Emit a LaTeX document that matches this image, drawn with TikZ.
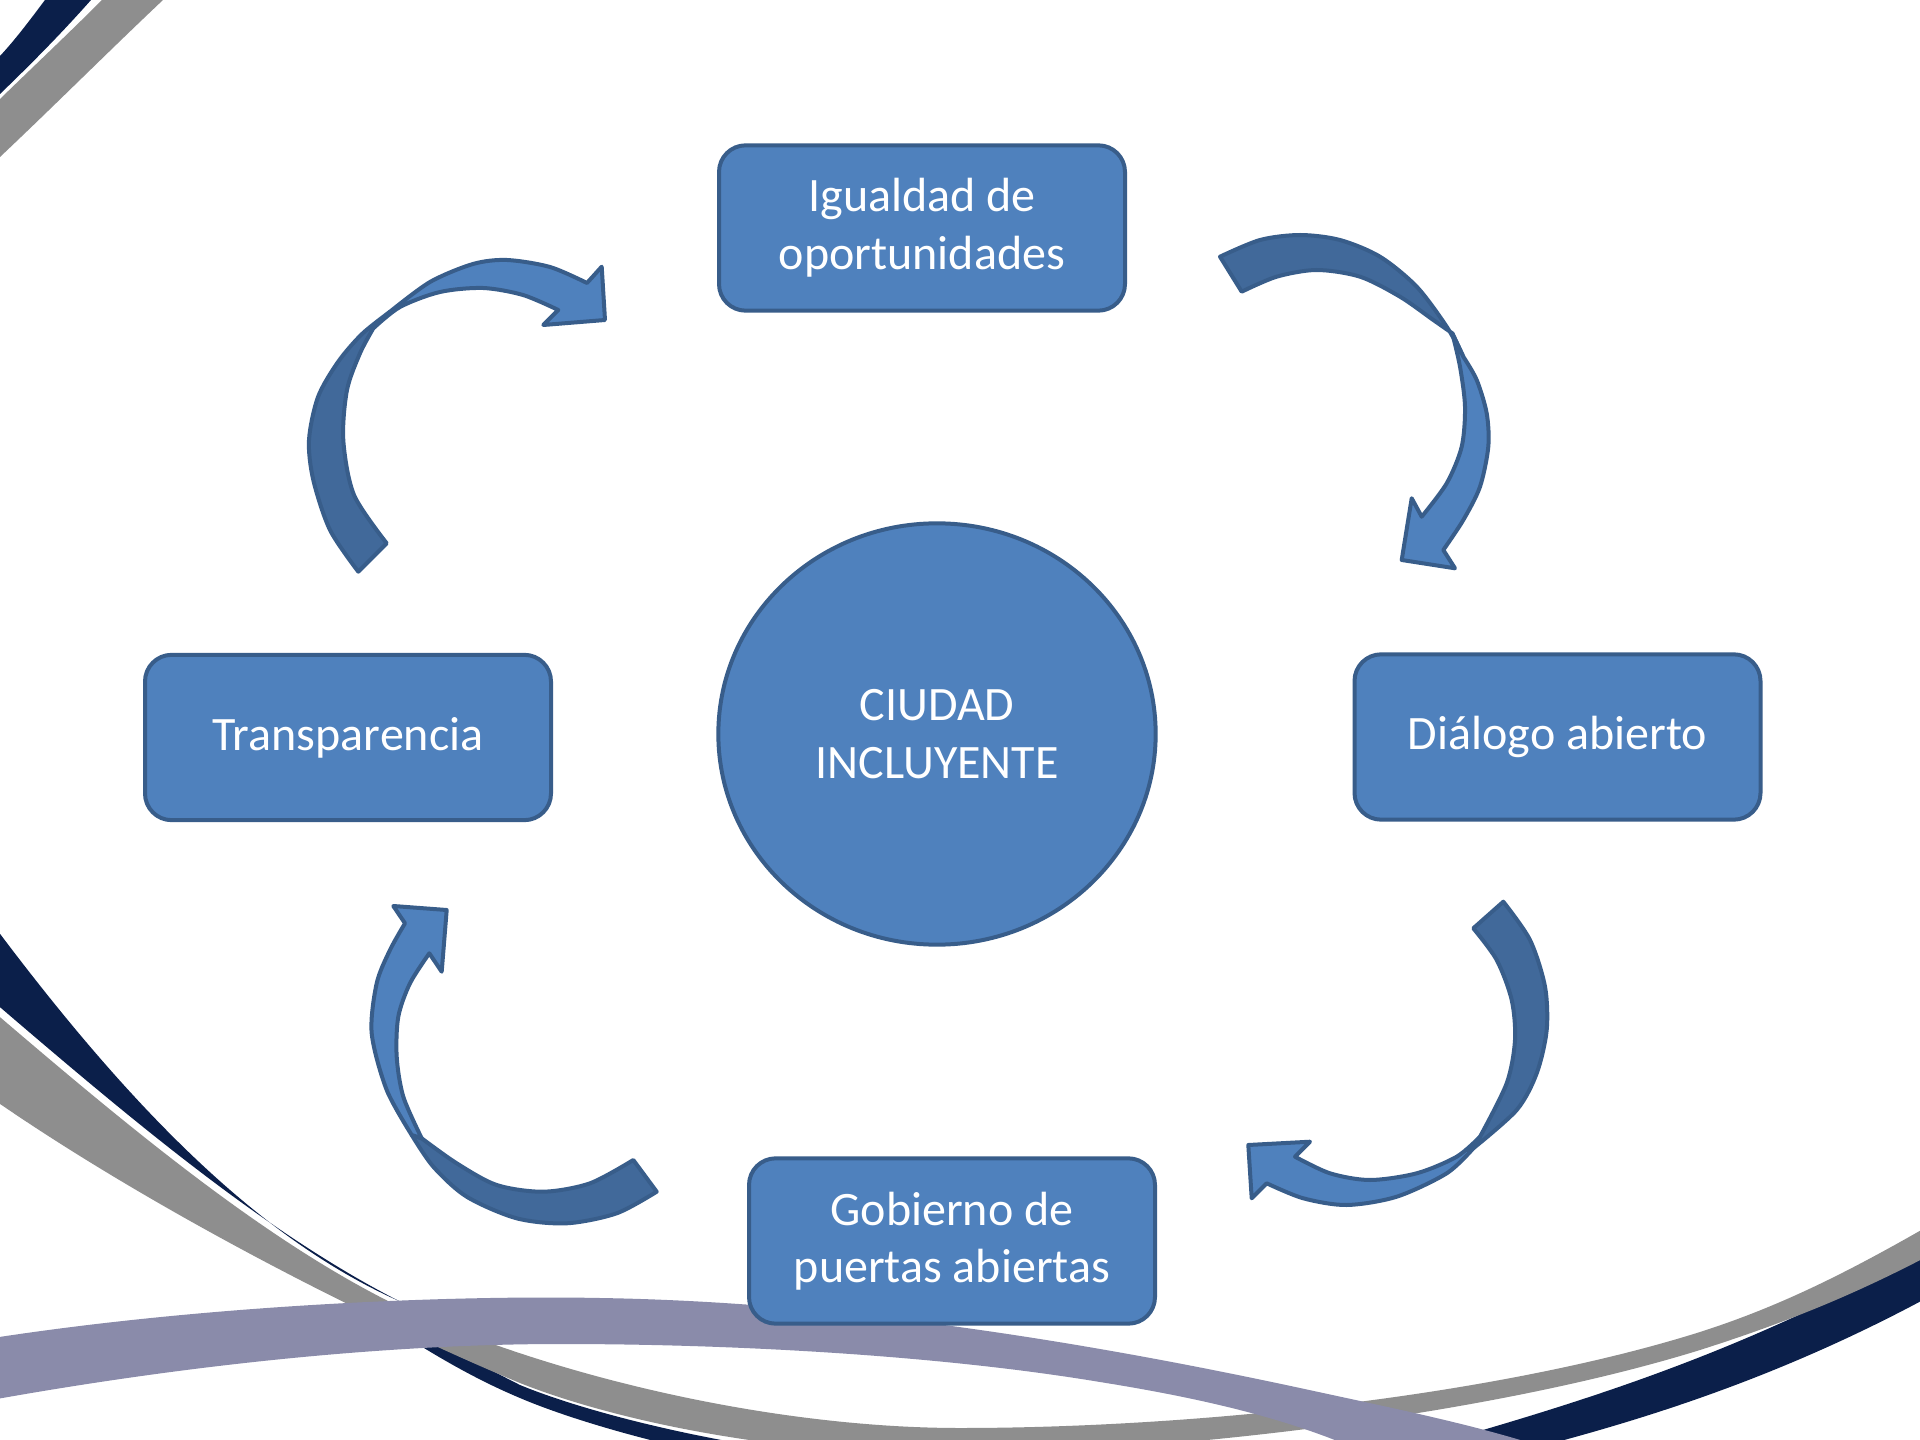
\documentclass[tikz,border=0pt]{standalone}
\usepackage{fontspec}
\setmainfont{Carlito}
\usetikzlibrary{shapes.geometric}
\definecolor{boxfill}{HTML}{4F81BD}
\definecolor{boxline}{HTML}{385D8A}
\definecolor{backface}{HTML}{41699A}
\definecolor{navyband}{HTML}{0B1F4A}
\definecolor{grayband}{HTML}{8E8E8E}
\definecolor{lavband}{HTML}{8A8BAA}
\begin{document}
\begin{tikzpicture}[x=0.375pt,y=-0.375pt,
  box/.style={draw=boxline, line width=1.5pt, fill=boxfill, rounded corners=10pt,
    minimum width=152.25pt, minimum height=62pt, text=white, align=center, inner sep=0pt,
    font=\fontsize{18}{21.6}\selectfont},
  hub/.style={ellipse, draw=boxline, line width=1.5pt, fill=boxfill,
    minimum width=164pt, minimum height=158pt, text=white, align=center, inner sep=0pt,
    font=\fontsize{18}{21.6}\selectfont},
  front/.style={draw=boxline, line width=1.5pt, fill=boxfill, line join=round},
  back/.style={draw=boxline, line width=1.5pt, fill=backface, line join=round},
]
\useasboundingbox (0,0) rectangle (1920,1440);
\fill[white] (0,0) rectangle (1920,1440);

% background swooshes
\begin{scope}
\clip (0,0) rectangle (1920,1440);
% top-left corner pieces
\fill[navyband] (45,0) -- (91,0) .. controls (60,35) and (30,65) .. (0,94) -- (0,56) .. controls (15,40) and (30,20) .. (45,0) -- cycle;
\fill[grayband] (102,0) -- (163,0) .. controls (110,50) and (55,105) .. (0,157) -- (0,99) .. controls (35,65) and (70,32) .. (102,0) -- cycle;
% navy below gray (bottom centre)
\fill[navyband] (390,1312) .. controls (430,1335) and (470,1360) .. (520,1385)
  .. controls (600,1418) and (760,1455) .. (900,1462) -- (900,1482)
  .. controls (760,1472) and (600,1432) .. (520,1398)
  .. controls (470,1377) and (430,1352) .. (390,1327) -- cycle;
% navy right
\fill[navyband] (1380,1460) .. controls (1550,1410) and (1750,1360) .. (1990,1212)
  -- (1990,1262) .. controls (1760,1400) and (1560,1440) .. (1450,1470) -- cycle;
% gray big band
\fill[grayband] (-20,1000) .. controls (120,1120) and (260,1238) .. (396,1305)
  .. controls (560,1380) and (780,1428) .. (960,1428)
  .. controls (1200,1428) and (1500,1395) .. (1700,1332)
  .. controls (1800,1300) and (1880,1255) .. (1990,1190)
  -- (1990,1222) .. controls (1880,1285) and (1800,1318) .. (1700,1350)
  .. controls (1500,1412) and (1200,1450) .. (960,1455)
  .. controls (760,1455) and (600,1415) .. (520,1383)
  .. controls (380,1325) and (150,1210) .. (-20,1090) -- cycle;
% navy crescent (left)
\fill[navyband] (-20,907) .. controls (115,1090) and (250,1235) .. (399,1301)
  .. controls (260,1230) and (120,1110) .. (-20,990) -- cycle;
% lavender band
\fill[lavband] (-20,1340) .. controls (200,1305) and (450,1295) .. (600,1298)
  .. controls (850,1302) and (1100,1345) .. (1300,1388)
  .. controls (1420,1414) and (1500,1430) .. (1580,1460)
  -- (1380,1460) .. controls (1300,1420) and (1200,1398) .. (1100,1382)
  .. controls (950,1357) and (750,1344) .. (560,1344)
  .. controls (400,1344) and (200,1362) .. (-20,1402) -- cycle;
\end{scope}

% curved arrows
% top-left
\draw[back] (386.7,543.3) -- (358.3,571.7) -- plot[smooth] coordinates {(358.3,571.7) (330,530) (313.3,480) (309,440) (318,397) (338,362) (362,334) (390,311.7)} -- (373.3,328.3) -- plot[smooth] coordinates {(373.3,328.3) (360,353.3) (347,390) (343.3,440) (354,495) (386.7,543.3)} -- cycle;
\draw[front] (373.3,328.3) -- plot[smooth] coordinates {(390,311.7) (430,282) (473,264) (507,260) (550,267) (587,283)} -- (601.7,266.7) -- (605,320) -- (543.3,325) -- plot[smooth] coordinates {(558.3,310) (523,295) (483,288) (440,292) (400,307) (373.3,328.3)} -- cycle;
% top-right
\draw[back] (1241.7,291.7) -- (1220,256.7) -- plot[smooth] coordinates {(1220,256.7) (1260,240) (1300,235) (1340,240) (1380,256.7) (1416.7,286.7) (1446.7,326.7) (1463.3,356.7)} -- (1452.3,333.3) -- plot[smooth] coordinates {(1452.3,333.3) (1433.3,320) (1400,296.7) (1360,276.7) (1316.7,270) (1276.7,276.7) (1241.7,291.7)} -- cycle;
\draw[front] (1452.3,333.3) -- plot[smooth] coordinates {(1463.3,356.7) (1476.7,380) (1486.7,413.3) (1488.3,446.7) (1480,486.7) (1463.3,520) (1443.3,550)} -- (1455,568.3) -- (1401.7,560) -- (1411.7,498.3) -- plot[smooth] coordinates {(1421.7,516.7) (1446.7,483.3) (1461.7,446.7) (1465,406.7) (1460,366.7) (1452.3,333.3)} -- cycle;
% bottom-right
\draw[back] (1473.3,928.3) -- (1503.3,901.7) -- plot[smooth] coordinates {(1503.3,901.7) (1530,940) (1545,986.7) (1546.7,1030) (1536.7,1073.3) (1516.7,1110) (1473.3,1148.3)} -- (1480,1136.7) -- plot[smooth] coordinates {(1480,1136.7) (1506.7,1083.3) (1515,1040) (1511.7,1000) (1496.7,960) (1473.3,928.3)} -- cycle;
\draw[front] (1480,1136.7) -- plot[smooth] coordinates {(1473.3,1148.3) (1446.7,1173.3) (1396.7,1196.7) (1346.7,1205) (1303.3,1198.3) (1266.7,1183.3)} -- (1251.7,1198.3) -- (1248.3,1145) -- (1310,1141.7) -- plot[smooth] coordinates {(1295,1156.7) (1330,1173.3) (1370,1180) (1416.7,1173.3) (1456.7,1156.7) (1480,1136.7)} -- cycle;
% bottom-left
\draw[back] (633.3,1160) -- (656.7,1191.7) -- plot[smooth] coordinates {(656.7,1191.7) (616.7,1213.3) (566.7,1223.3) (516.7,1218.3) (466.7,1196.7) (433.3,1166.7) (411.7,1135)} -- (421.7,1138.3) -- plot[smooth] coordinates {(421.7,1138.3) (456.7,1163.3) (496.7,1185) (543.3,1191.7) (590,1183.3) (633.3,1160)} -- cycle;
\draw[front] (421.7,1138.3) -- plot[smooth] coordinates {(411.7,1135) (386.7,1090) (371.7,1033.3) (376.7,983.3) (390,950) (405,923.3)} -- (393.3,906) -- (446.7,910) -- (441.7,971.7) -- plot[smooth] coordinates {(429.3,953.3) (410,983.3) (398.3,1016.7) (396.7,1056.7) (403.3,1096.7) (421.7,1138.3)} -- cycle;

% nodes
\node[box] (igualdad) at (922,228) {Igualdad de\\oportunidades};
\node[box] (transparencia) at (348,737.5) {Transparencia};
\node[box] (dialogo) at (1557.5,737) {Diálogo abierto};
\node[box] (gobierno) at (952,1241) {Gobierno de\\puertas abiertas};
\node[hub] (ciudad) at (937,734) {CIUDAD\\INCLUYENTE};
\end{tikzpicture}
\end{document}
